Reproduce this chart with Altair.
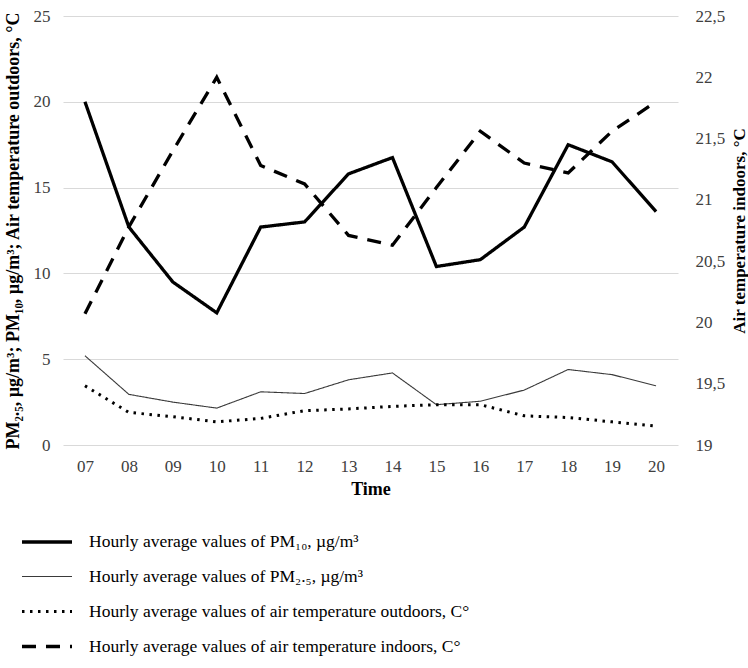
import altair as alt
import pandas as pd

hours = ["07", "08", "09", "10", "11", "12", "13", "14", "15", "16", "17", "18", "19", "20"]
pm10 = [20.0, 12.7, 9.5, 7.7, 12.7, 13.0, 15.8, 16.75, 10.4, 10.8, 12.7, 17.5, 16.5, 13.6]
pm25 = [5.2, 2.95, 2.5, 2.15, 3.1, 3.0, 3.8, 4.2, 2.35, 2.55, 3.2, 4.4, 4.1, 3.45]
t_out = [3.45, 1.9, 1.65, 1.35, 1.55, 2.0, 2.1, 2.25, 2.35, 2.35, 1.7, 1.6, 1.35, 1.1]
t_in = [20.07, 20.78, 21.4, 22.0, 21.28, 21.13, 20.71, 20.63, 21.1, 21.56, 21.3, 21.22, 21.56, 21.8]

s_pm10 = "Hourly average values of PM₁₀, µg/m³"
s_pm25 = "Hourly average values of PM₂.₅, µg/m³"
s_out = "Hourly average values of air temperature outdoors, C°"
s_in = "Hourly average values of air temperature indoors, C°"
series_order = [s_pm10, s_pm25, s_out, s_in]

rows = []
for name, vals, side in [(s_pm10, pm10, "left"), (s_pm25, pm25, "left"),
                         (s_out, t_out, "left"), (s_in, t_in, "right")]:
    for h, v in zip(hours, vals):
        rows.append({"hour": h, "value": v, "series": name, "side": side})
df = pd.DataFrame(rows)

FONT = "Liberation Serif"

x_enc = alt.X("hour:O", title="Time",
              scale=alt.Scale(type="point", padding=0.5),
              axis=alt.Axis(labelAngle=0, ticks=False, domain=False, grid=False,
                            labelPadding=13, titlePadding=6))

dash = alt.StrokeDash("series:N",
                      scale=alt.Scale(domain=series_order,
                                      range=[[1, 0], [1, 0], [2.5, 5.5], [14, 10]]),
                      legend=alt.Legend(title=None, orient="none", legendX=-33, legendY=509,
                                        direction="vertical", symbolType="M-1.667,0H1.667",
                                        symbolSize=900, labelFont=FONT, labelFontSize=17.5,
                                        labelColor="black", labelLimit=700, labelOffset=25,
                                        rowPadding=9.5))
width_enc = alt.StrokeWidth("series:N",
                            scale=alt.Scale(type="ordinal", domain=series_order,
                                            range=[3.3, 1.1, 3, 3.3]))
color_enc = alt.Color("series:N",
                      scale=alt.Scale(domain=series_order,
                                      range=["#000000", "#3a3a3a", "#000000", "#000000"]))

left = alt.Chart(df).transform_filter(alt.datum.side == "left").mark_line().encode(
    x=x_enc,
    y=alt.Y("value:Q",
            title="PM₂.₅, µg/m³; PM₁₀, µg/m³; Air temperature outdoors, °C",
            scale=alt.Scale(domain=[0, 25], nice=False),
            axis=alt.Axis(values=[0, 5, 10, 15, 20, 25], ticks=False, domain=False,
                          grid=True, gridColor="#d9d9d9", gridWidth=1.2,
                          labelPadding=13, titlePadding=11)),
    strokeDash=dash,
    strokeWidth=width_enc,
    color=color_enc,
)

right = alt.Chart(df).transform_filter(alt.datum.side == "right").mark_line().encode(
    x=x_enc,
    y=alt.Y("value:Q", title="Air temperature indoors, °C",
            scale=alt.Scale(domain=[19, 22.5], nice=False),
            axis=alt.Axis(orient="right", values=[19, 19.5, 20, 20.5, 21, 21.5, 22, 22.5],
                          labelExpr="replace(toString(datum.value), '.', ',')",
                          ticks=False, domain=False, grid=False,
                          labelPadding=17, titlePadding=24, titleAngle=270,
                          titleFontSize=17)),
    strokeDash=dash,
    strokeWidth=width_enc,
    color=color_enc,
)

chart = alt.layer(left, right).resolve_scale(y="independent").properties(
    width=615, height=429,
    autosize=alt.AutoSizeParams(type="none"),
    padding={"left": 63, "top": 16, "right": 70, "bottom": 223},
).configure_view(strokeWidth=0).configure_axis(
    labelFont=FONT, labelFontSize=17, labelColor="#404040",
    titleFont=FONT, titleFontSize=18, titleFontWeight="bold", titleColor="black",
).configure_line(strokeJoin="miter")

chart.save("out.html", embed_options={"renderer": "svg", "actions": False})
